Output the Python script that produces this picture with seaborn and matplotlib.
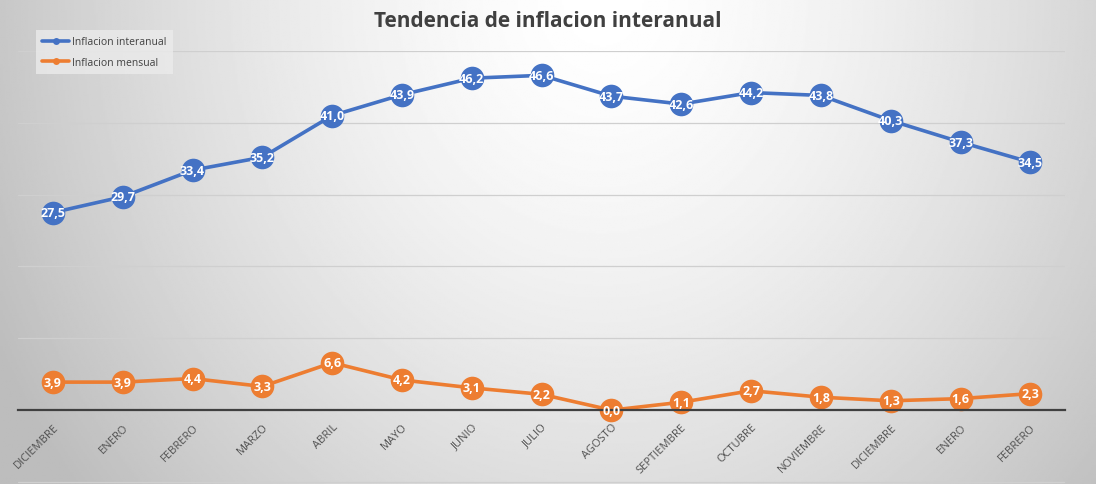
import numpy as np
import pandas as pd
import matplotlib
matplotlib.use('Agg')
import matplotlib.pyplot as plt
import seaborn as sns

sns.set_theme(style='white')
plt.rcParams['font.family'] = ['Open Sans', 'DejaVu Sans']

# Data
meses = ['DICIEMBRE', 'ENERO', 'FEBRERO', 'MARZO', 'ABRIL', 'MAYO', 'JUNIO', 'JULIO',
         'AGOSTO', 'SEPTIEMBRE', 'OCTUBRE', 'NOVIEMBRE', 'DICIEMBRE', 'ENERO', 'FEBRERO']
interanual = [27.5, 29.7, 33.4, 35.2, 41.0, 43.9, 46.2, 46.6, 43.7, 42.6, 44.2, 43.8, 40.3, 37.3, 34.5]
mensual = [3.9, 3.9, 4.4, 3.3, 6.6, 4.2, 3.1, 2.2, 0.0, 1.1, 2.7, 1.8, 1.3, 1.6, 2.3]
series = ['Inflacion interanual', 'Inflacion mensual']
colores = ['#4472C4', '#ED7D31']

df = pd.DataFrame({
    'pos': list(range(len(meses))) * 2,
    'valor': interanual + mensual,
    'serie': [series[0]] * len(meses) + [series[1]] * len(meses),
})

fig = plt.figure(figsize=(10.96, 4.85), dpi=100)

# background gradient (light centre top, grey towards the sides)
bg = fig.add_axes([0, 0, 1, 1], zorder=-10)
yy, xx = np.mgrid[0:1:300j, 0:1:600j]
r = np.sqrt(((xx - 0.55) / 0.62) ** 2 + ((yy - 0.0) / 1.6) ** 2)
shade = 1.0 - 0.26 * np.clip(r, 0, 1) ** 1.5
bg.imshow(shade, cmap='gray', vmin=0, vmax=1, aspect='auto', extent=[0, 1, 1, 0])
bg.axis('off')

ax = fig.add_axes([0.0164, 0.0, 0.9556, 0.893])
ax.patch.set_alpha(0)

sns.lineplot(data=df, x='pos', y='valor', hue='serie', palette=colores,
             marker='o', markersize=17, markeredgewidth=0, linewidth=2.6, ax=ax)

for vals, c in zip([interanual, mensual], colores):
    for i, v in enumerate(vals):
        ax.text(i, v, f'{v:.1f}'.replace('.', ','), ha='center', va='center',
                color='white', fontsize=9, fontweight='bold', zorder=5)

ax.set_xlim(-0.5, len(meses) - 0.5)
ax.set_ylim(-10.28, 50)
ax.set_yticks(range(-10, 51, 10))
ax.yaxis.grid(True, color='#cfcfcf', linewidth=0.9)
ax.set_axisbelow(True)
ax.tick_params(axis='y', left=False, labelleft=False)
for s in ['left', 'right', 'top']:
    ax.spines[s].set_visible(False)
ax.spines['bottom'].set_position(('data', 0))
ax.spines['bottom'].set_color('#404040')
ax.spines['bottom'].set_linewidth(1.6)
ax.set_xticks(range(len(meses)))
ax.set_xticklabels(meses, rotation=45, ha='right', va='top', rotation_mode='anchor',
                   fontsize=8, color='#505050')
ax.tick_params(axis='x', bottom=False, pad=2)
ax.set_xlabel('')
ax.set_ylabel('')

leg = ax.legend(loc='upper left', bbox_to_anchor=(0.012, 1.06), frameon=True,
                fontsize=7.5, handlelength=2.6, handletextpad=0.3, labelspacing=0.9,
                borderpad=0.6, fancybox=False)
leg.get_frame().set_facecolor('#ebebeb')
leg.get_frame().set_edgecolor('none')
leg.get_frame().set_alpha(0.8)
for t in leg.get_texts():
    t.set_color('#404040')
for h in leg.get_lines():
    h.set_markersize(5)

fig.text(0.5, 0.955, 'Tendencia de inflacion interanual', ha='center', va='center',
         fontsize=15, fontweight='bold', color='#404040')

fig.savefig('out.png', dpi=100)
